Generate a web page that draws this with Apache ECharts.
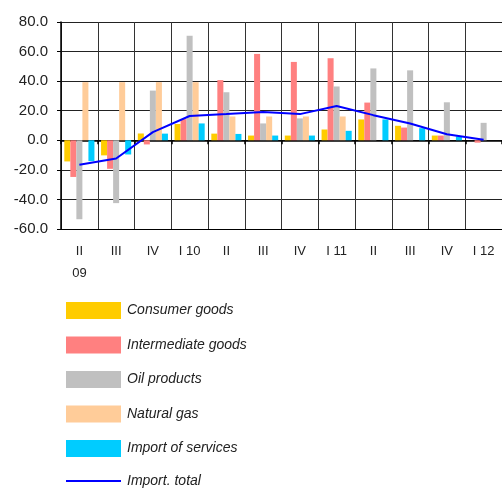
<!DOCTYPE html>
<html>
<head>
<meta charset="utf-8">
<script src="https://cdn.jsdelivr.net/npm/echarts@6/dist/echarts.min.js"></script>
<style>
  html, body { margin: 0; padding: 0; background: #fff; }
  #chart { width: 502px; height: 490px; }
</style>
</head>
<body>
<div id="chart"></div>
<script>
// Quarterly import growth, % y/y
const quarters = ['II\n09', 'III', 'IV', 'I 10', 'II', 'III', 'IV', 'I 11', 'II', 'III', 'IV', 'I 12'];

const consumerGoods     = [-14.3, -10.2, 4.6, 11.0, 4.5, 3.2, 3.2, 7.3, 14.1, 9.8, 3.2, null];
const intermediateGoods = [-24.8, -19.3, -2.8, 14.3, 40.7, 58.4, 53.0, 55.5, 25.5, 8.6, 3.2, -1.6];
const oilProducts       = [-53.4, -42.5, 33.6, 70.7, 32.5, 11.4, 14.8, 36.4, 48.6, 47.3, 25.7, 11.8];
const naturalGas        = [39.3, 39.3, 39.3, 39.3, 16.1, 16.1, 16.1, 16.1, null, null, null, null];
const importServices    = [-14.1, -9.6, 4.5, 11.4, 4.3, 3.2, 3.2, 6.4, 14.1, 8.2, 2.6, null];
const importTotal       = [-16.6, -12.3, 5.5, 16.4, 17.7, 19.1, 17.7, 23.2, 17.0, 11.4, 4.1, 0.3];

const yTicks = { min: -60, max: 80, interval: 20 };

const textFont = 'Liberation Sans, Arial, sans-serif';
const legendText = { fontStyle: 'italic', fontSize: 14, color: '#222', fontFamily: textFont, padding: [5, 0, 0, 1] };

function bar(name, data, color) {
  return {
    name, type: 'bar', data,
    barGap: '0%', barCategoryGap: '18%',
    itemStyle: { color },
    emphasis: { disabled: true }
  };
}

const chart = echarts.init(document.getElementById('chart'), null, { renderer: 'canvas' });
chart.setOption({
  animation: false,
  textStyle: { fontFamily: textFont },
  grid: { left: 61, top: 22, right: 0, bottom: 261 },
  legend: [
    {
      orient: 'vertical',
      left: 66, top: 302, padding: 0,
      itemWidth: 55, itemHeight: 17, itemGap: 17.5,
      icon: 'rect',
      selectedMode: false,
      textStyle: legendText,
      data: ['Consumer goods', 'Intermediate goods', 'Oil products', 'Natural gas', 'Import of services']
    },
    {
      orient: 'vertical',
      left: 66, top: 474, padding: 0,
      itemWidth: 55, itemHeight: 2, icon: 'rect',
      selectedMode: false,
      textStyle: legendText,
      data: ['Import. total']
    }
  ],
  xAxis: [
    {
      type: 'category', data: quarters, position: 'bottom',
      axisLine: { onZero: false, lineStyle: { color: '#000', width: 1 } },
      axisTick: { show: false },
      axisLabel: { color: '#222', fontSize: 13, margin: 11, lineHeight: 22, fontFamily: textFont },
      splitLine: { show: true, lineStyle: { color: '#333', width: 1 } }
    },
    {
      type: 'category', data: quarters, position: 'bottom',
      axisLine: { onZero: true, lineStyle: { color: '#000', width: 1.5 } },
      axisTick: { show: true, length: 4, lineStyle: { color: '#000', width: 1.5 } },
      axisLabel: { show: false },
      splitLine: { show: false }
    }
  ],
  yAxis: {
    type: 'value', min: yTicks.min, max: yTicks.max, interval: yTicks.interval,
    axisLine: { show: true, lineStyle: { color: '#000', width: 1.5 } },
    axisTick: { show: true, length: 4, lineStyle: { color: '#000' } },
    axisLabel: { color: '#222', fontSize: 15, margin: 13, formatter: v => v.toFixed(1), fontFamily: textFont },
    splitLine: { show: true, lineStyle: { color: '#222', width: 1 } }
  },
  series: [
    bar('Consumer goods', consumerGoods, '#FFCC00'),
    bar('Intermediate goods', intermediateGoods, '#FF8080'),
    bar('Oil products', oilProducts, '#C0C0C0'),
    bar('Natural gas', naturalGas, '#FFCC99'),
    bar('Import of services', importServices, '#00CCFF'),
    {
      name: 'Import. total', type: 'line', data: importTotal,
      symbol: 'none', z: 5,
      lineStyle: { color: '#0000FF', width: 2 },
      itemStyle: { color: '#0000FF' },
      emphasis: { disabled: true }
    }
  ]
});
</script>
</body>
</html>
